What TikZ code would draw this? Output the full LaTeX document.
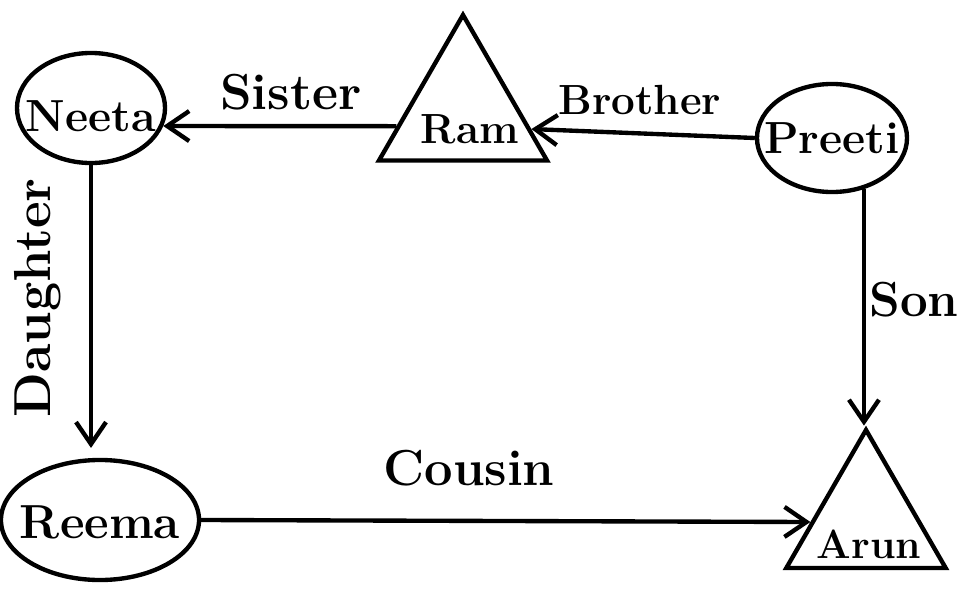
\documentclass[tikz,border=0pt]{standalone}
\usetikzlibrary{shapes.geometric,arrows.meta}
\begin{document}
\begin{tikzpicture}[x=0.025cm,y=-0.025cm,
  line width=3.1pt,
  arr/.style={-{Straight Barb[length=5.5mm,width=7.5mm,line width=3.1pt]}},
  person/.style={draw,ellipse,inner sep=0pt},
  tri/.style={draw,regular polygon,regular polygon sides=3,inner sep=0pt},
  nm/.style={font=\bfseries\fontsize{#1}{#1}\selectfont,inner sep=0pt},
  lbl/.style={font=\bfseries\fontsize{#1}{#1}\selectfont,inner sep=0pt}]
\useasboundingbox (0,0) rectangle (975,599);
% nodes
\node[person,minimum width=3.7cm,minimum height=2.75cm] (neeta) at (91,108) {};
\node[nm=32] (neetat) at (91,116) {Neeta};
\node[person,minimum width=3.75cm,minimum height=2.7cm] (preeti) at (832,138) {};
\node[nm=32] (preetit) at (832,138) {Preeti};
\node[person,minimum width=4.95cm,minimum height=3.0cm] (reema) at (100,520) {};
\node[nm=34] (reemat) at (100,522) {Reema};
\node[tri,minimum size=4.85cm] (ram) at (463,112) {};
\node[nm=30] (ramt) at (470,129) {Ram};
\node[tri,minimum size=4.6cm] (arun) at (866,522) {};
\node[nm=29] (arunt) at (869,544) {Arun};
% connectors
\draw[arr] (ram.192) -- (neeta.-14);
\draw[arr] (preeti.west) -- (ram.-14);
\draw[arr] (neeta.south) -- ([yshift=7pt]neeta.south |- reema.north);
\draw[arr] (preeti.-58) -- (preeti.-58 |- arun.corner 1);
\draw[arr] (reema.east) -- (arun.180);
% labels
\node[lbl=36] (sister) at (291,92) {Sister};
\node[lbl=30] (brother) at (640,100) {Brother};
\node[lbl=37,rotate=90] (daughter) at (38,298) {Daughter};
\node[lbl=35] (son) at (914,300) {Son};
\node[lbl=36] (cousin) at (469,468) {Cousin};
\end{tikzpicture}
\end{document}
